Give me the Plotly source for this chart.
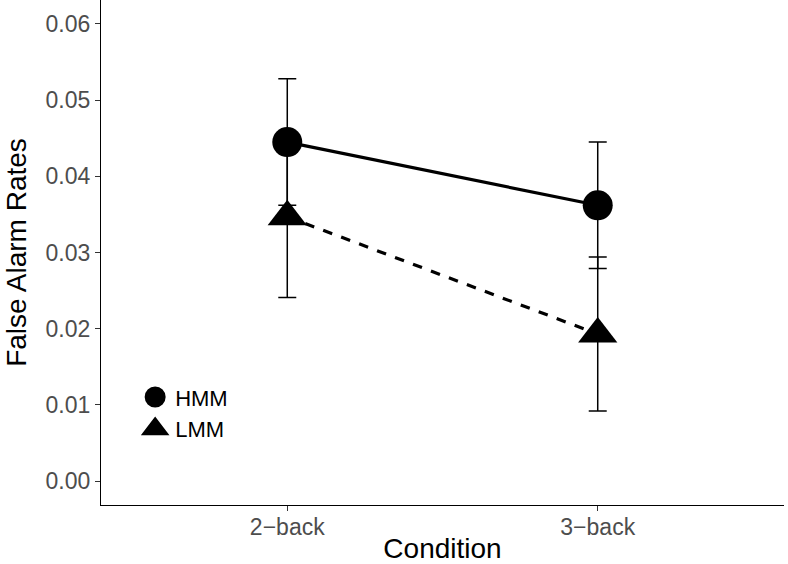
import plotly.graph_objects as go

# condicoes e medias
condicoes = ["2\u2212back", "3\u2212back"]
grupos = ["HMM", "LMM"]
hmm_media = [0.0445, 0.0362]
hmm_erro = [0.0083, 0.0083]
lmm_media = [0.0347, 0.0193]
lmm_erro = [0.0106, 0.0101]

fig = go.Figure()

fig.add_trace(go.Scatter(
    x=condicoes, y=hmm_media, name=grupos[0], mode="lines+markers", showlegend=False,
    line=dict(color="black", width=3.2, dash="solid"),
    marker=dict(symbol="circle", size=30, color="black"),
    error_y=dict(type="data", array=hmm_erro, color="black", thickness=1.5, width=9),
))
fig.add_trace(go.Scatter(
    x=condicoes, y=lmm_media, name=grupos[1], mode="lines+markers", showlegend=False,
    line=dict(color="black", width=3.2, dash="dash"),
    marker=dict(symbol="triangle-up", size=34, color="black"),
    error_y=dict(type="data", array=lmm_erro, color="black", thickness=1.5, width=9),
))

# legenda so com os marcadores
simbolos = ["circle", "triangle-up"]
for g, s in zip(grupos, simbolos):
    fig.add_trace(go.Scatter(
        x=[None], y=[None], name=g, mode="markers", legendgroup=g,
        marker=dict(symbol=s, size=30, color="black", line=dict(color="black", width=6)),
    ))

fig.update_layout(
    width=788, height=564,
    margin=dict(l=101, r=4, t=0, b=59),
    plot_bgcolor="white", paper_bgcolor="white",
    font=dict(family="Liberation Sans, Arial", color="black"),
    showlegend=True,
    legend=dict(x=0.05, y=0.255, xanchor="left", yanchor="top",
                bgcolor="rgba(0,0,0,0)", font=dict(size=22, color="black"),
                itemsizing="trace", tracegroupgap=0, itemwidth=30),
)
fig.update_xaxes(
    range=[-0.6, 1.6], showline=True, linecolor="black", linewidth=1.2, automargin=False,
    ticks="outside", ticklen=5, tickcolor="#333333", showgrid=False, zeroline=False,
    tickfont=dict(size=23, color="#4D4D4D"), ticklabelstandoff=-4,
    title=dict(text="Condition", font=dict(size=28, color="black"), standoff=12),
)
fig.update_yaxes(
    range=[-0.00315, 0.06315], tickvals=[0, 0.01, 0.02, 0.03, 0.04, 0.05, 0.06],
    tickformat=".2f", showline=True, linecolor="black", linewidth=1.2, automargin=False,
    ticks="outside", ticklen=5, tickcolor="#333333", showgrid=False, zeroline=False,
    tickfont=dict(size=23, color="#4D4D4D"),
    title=dict(text="False Alarm Rates", font=dict(size=28, color="black"), standoff=10),
)

# tira a margem do body da pagina
fig.write_html("out.html", config={"displayModeBar": False},
               post_script="document.body.style.margin='0';")
